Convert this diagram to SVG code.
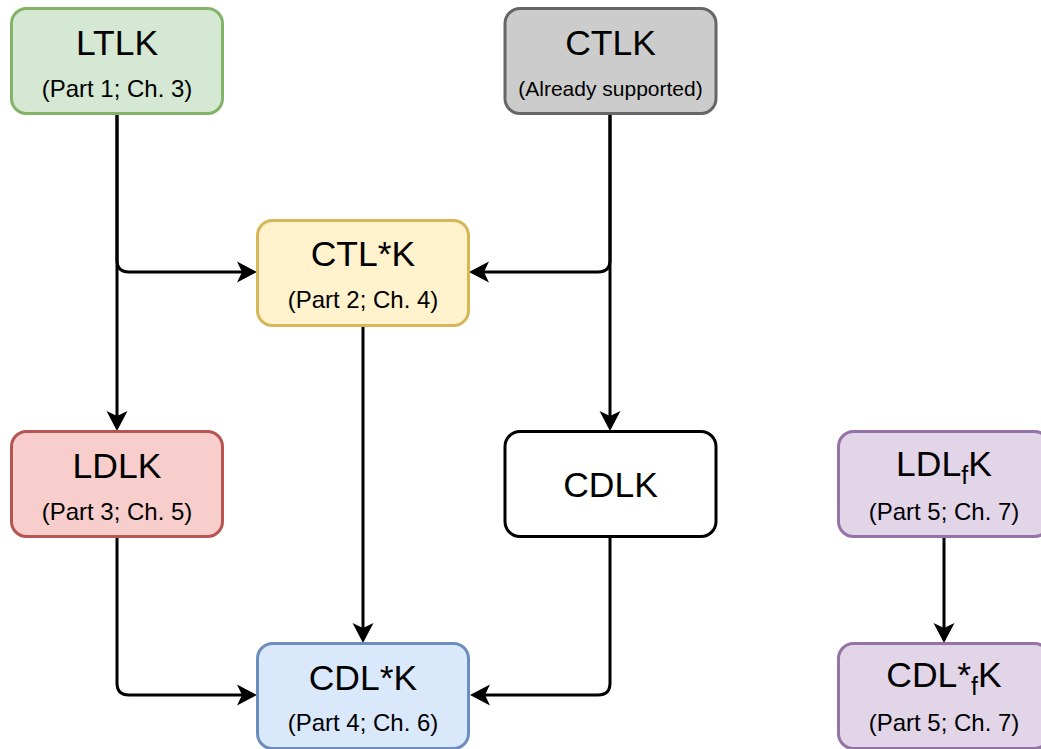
<svg xmlns="http://www.w3.org/2000/svg" width="1041" height="749" viewBox="0 0 1041 749">
  <style>
    .box { stroke-width: 3; }
    .title { font-family: "Liberation Sans", Arial, sans-serif; font-size: 35.5px; fill: #000; text-anchor: middle; }
    .sub { font-family: "Liberation Sans", Arial, sans-serif; font-size: 24px; fill: #000; text-anchor: middle; }
    .sub-small { font-family: "Liberation Sans", Arial, sans-serif; font-size: 21px; fill: #000; text-anchor: middle; }
    .edge { fill: none; stroke: #000; stroke-width: 3; marker-end: url(#arrow); }
  </style>
  <defs>
    <!-- classic notched arrowhead; ref point sits in the notch, tip 15px further on -->
    <marker id="arrow" markerUnits="userSpaceOnUse" markerWidth="22" markerHeight="22" refX="5" refY="10.5" orient="auto" overflow="visible">
      <path d="M20,10.5 L0,0 L5,10.5 L0,21 Z" fill="#000"/>
    </marker>
  </defs>
  <rect width="1041" height="749" fill="#fff"/>

  <g id="connectors">
    <path class="edge" d="M117,114 V416"/>
    <path class="edge" d="M117,114 V260 Q117,272 129,272 H242"/>
    <path class="edge" d="M610,114 V416"/>
    <path class="edge" d="M610,114 V260 Q610,272 598,272 H484"/>
    <path class="edge" d="M363,327 V628"/>
    <path class="edge" d="M117,537 V683 Q117,695 129,695 H242"/>
    <path class="edge" d="M610,537 V683 Q610,695 598,695 H485"/>
    <path class="edge" d="M944,537 V628"/>
  </g>

  <g id="ltlk">
    <rect class="box" x="11.5" y="8.5" width="211" height="105" rx="15" fill="#d5e8d4" stroke="#82b366"/>
    <text class="title" x="117" y="55">LTLK</text>
    <text class="sub" x="117" y="97">(Part 1; Ch. 3)</text>
  </g>

  <g id="ctlk">
    <rect class="box" x="505" y="8.5" width="211" height="105" rx="15" fill="#cccccc" stroke="#666666"/>
    <text class="title" x="610.5" y="55">CTLK</text>
    <text class="sub-small" x="610.5" y="96">(Already supported)</text>
  </g>

  <g id="ctlstark">
    <rect class="box" x="257.5" y="220.5" width="211" height="105" rx="15" fill="#fff2cc" stroke="#d6b656"/>
    <text class="title" x="363" y="266">CTL*K</text>
    <text class="sub" x="363" y="308">(Part 2; Ch. 4)</text>
  </g>

  <g id="ldlk">
    <rect class="box" x="11.5" y="431.5" width="211" height="105" rx="15" fill="#f8cecc" stroke="#b85450"/>
    <text class="title" x="117" y="478">LDLK</text>
    <text class="sub" x="117" y="520">(Part 3; Ch. 5)</text>
  </g>

  <g id="cdlk">
    <rect class="box" x="505" y="431.5" width="211" height="105" rx="15" fill="#ffffff" stroke="#000000"/>
    <text class="title" x="610.5" y="497">CDLK</text>
  </g>

  <g id="ldlfk">
    <rect class="box" x="838.5" y="431.5" width="211" height="105" rx="15" fill="#e1d5e7" stroke="#9673a6"/>
    <text class="title" x="944" y="476">LDL<tspan font-size="25" dy="8">f</tspan><tspan dy="-8">K</tspan></text>
    <text class="sub" x="944" y="520">(Part 5; Ch. 7)</text>
  </g>

  <g id="cdlstark">
    <rect class="box" x="257.5" y="643.5" width="211" height="105" rx="15" fill="#dae8fc" stroke="#6c8ebf"/>
    <text class="title" x="363" y="690">CDL*K</text>
    <text class="sub" x="363" y="731">(Part 4; Ch. 6)</text>
  </g>

  <g id="cdlstarfk">
    <rect class="box" x="838.5" y="643.5" width="211" height="105" rx="15" fill="#e1d5e7" stroke="#9673a6"/>
    <text class="title" x="944" y="687">CDL*<tspan font-size="25" dy="8">f</tspan><tspan dy="-8">K</tspan></text>
    <text class="sub" x="944" y="731">(Part 5; Ch. 7)</text>
  </g>
</svg>
